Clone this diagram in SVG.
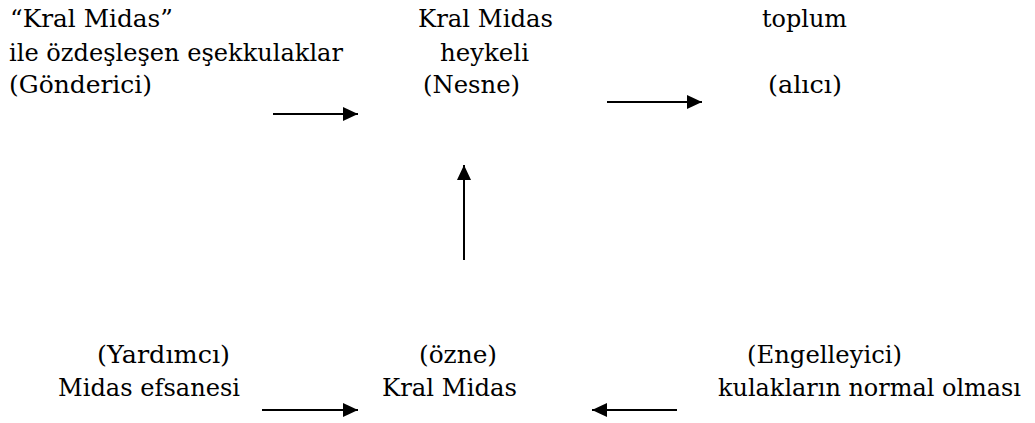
<svg xmlns="http://www.w3.org/2000/svg" width="1035" height="423" viewBox="0 0 1035 423">
<style>
text{font-family:'DejaVu Serif','Liberation Serif',Times,serif;font-size:24px;fill:#000}
.c{stroke:#000;stroke-width:2;fill:none}
</style>
<defs>
<marker id="ah" markerUnits="userSpaceOnUse" markerWidth="16" markerHeight="14" refX="15" refY="7" orient="auto">
<path d="M0,0 L15,7 L0,14 Z" fill="#000"/>
</marker>
</defs>
<rect width="1035" height="423" fill="#fff"/>
<g id="gonderici">
<text x="10" y="27" textLength="163" lengthAdjust="spacingAndGlyphs">“Kral Midas”</text>
<text x="9" y="61" textLength="334" lengthAdjust="spacingAndGlyphs">ile özdeşleşen eşekkulaklar</text>
<text x="9" y="93" textLength="143" lengthAdjust="spacingAndGlyphs">(Gönderici)</text>
</g>
<g id="nesne">
<text x="418" y="27" textLength="135" lengthAdjust="spacingAndGlyphs">Kral Midas</text>
<text x="440" y="61" textLength="89" lengthAdjust="spacingAndGlyphs">heykeli</text>
<text x="423" y="93" textLength="97" lengthAdjust="spacingAndGlyphs">(Nesne)</text>
</g>
<g id="alici">
<text x="762" y="27" textLength="85" lengthAdjust="spacingAndGlyphs">toplum</text>
<text x="768" y="93" textLength="74" lengthAdjust="spacingAndGlyphs">(alıcı)</text>
</g>
<g id="yardimci">
<text x="97" y="363" textLength="133" lengthAdjust="spacingAndGlyphs">(Yardımcı)</text>
<text x="58" y="396" textLength="182" lengthAdjust="spacingAndGlyphs">Midas efsanesi</text>
</g>
<g id="ozne">
<text x="419" y="363" textLength="78" lengthAdjust="spacingAndGlyphs">(özne)</text>
<text x="382" y="396" textLength="135" lengthAdjust="spacingAndGlyphs">Kral Midas</text>
</g>
<g id="engelleyici">
<text x="747" y="363" textLength="155" lengthAdjust="spacingAndGlyphs">(Engelleyici)</text>
<text x="718" y="396" textLength="303" lengthAdjust="spacingAndGlyphs">kulakların normal olması</text>
</g>
<g id="connectors">
<line class="c" x1="273" y1="114" x2="358" y2="114" marker-end="url(#ah)"/>
<line class="c" x1="607" y1="102" x2="702" y2="102" marker-end="url(#ah)"/>
<line class="c" x1="464" y1="260" x2="464" y2="165" marker-end="url(#ah)"/>
<line class="c" x1="262" y1="410" x2="358" y2="410" marker-end="url(#ah)"/>
<line class="c" x1="677" y1="410" x2="592" y2="410" marker-end="url(#ah)"/>
</g>
</svg>
